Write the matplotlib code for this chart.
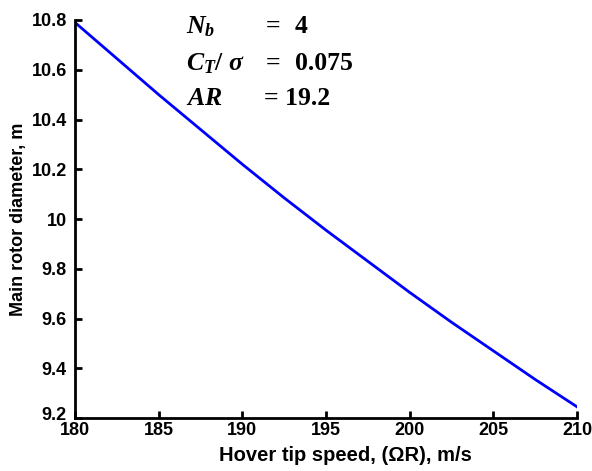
import matplotlib
matplotlib.use("Agg")
import matplotlib.pyplot as plt
import matplotlib.transforms as mtransforms

# Data
tip_speed = [180, 182.5, 185, 187.5, 190, 192.5, 195, 197.5, 200, 202.5, 205, 207.5, 210]
diameter = [10.79, 10.645, 10.50, 10.36, 10.22, 10.085, 9.955, 9.83, 9.705, 9.585, 9.47, 9.355, 9.245]
x_ticks = [180, 185, 190, 195, 200, 205, 210]
y_ticks = [9.2, 9.4, 9.6, 9.8, 10.0, 10.2, 10.4, 10.6, 10.8]
y_tick_labels = ["9.2", "9.4", "9.6", "9.8", "10", "10.2", "10.4", "10.6", "10.8"]

plt.rcParams['font.family'] = ['Liberation Sans', 'DejaVu Sans']
plt.rcParams['font.weight'] = 'bold'
plt.rcParams['mathtext.fontset'] = 'custom'
plt.rcParams['mathtext.it'] = 'Liberation Serif:italic:bold'
plt.rcParams['mathtext.rm'] = 'Liberation Serif:bold'
plt.rcParams['mathtext.bf'] = 'Liberation Serif:bold'

fig = plt.figure(figsize=(5.92, 4.71), dpi=100)
ax = fig.add_axes([75/592, 53/471, (577-75)/592, (418-20)/471])

ax.plot(tip_speed, diameter, color=(0, 0, 1), lw=2)
ax.set_xlim(180, 210)
ax.set_ylim(9.2, 10.8)
ax.set_xticks(x_ticks)
ax.set_xticklabels([str(v) for v in x_ticks])
ax.set_yticks(y_ticks)
ax.set_yticklabels(y_tick_labels)
for s in ['top', 'right']:
    ax.spines[s].set_visible(False)
for s in ['left', 'bottom']:
    ax.spines[s].set_linewidth(2)
ax.tick_params(direction='in', length=5, width=2, labelsize=13)
ax.tick_params(axis='y', pad=6)
ax.tick_params(axis='x', pad=3)
for lab in ax.get_xticklabels() + ax.get_yticklabels():
    lab.set_fontweight('bold')
# lift the lowest y label slightly, as in the reference
ylabs = ax.get_yticklabels()
ylabs[0].set_transform(ylabs[0].get_transform() +
                       mtransforms.ScaledTranslation(0, 4/100, fig.dpi_scale_trans))

ax.set_xlabel("Hover tip speed, (\u03A9R), m/s", fontsize=14.5, fontweight='bold')
ax.xaxis.set_label_coords((345-75)/502, (418-446)/398)
ax.set_ylabel("Main rotor diameter, m", fontsize=13, fontweight='bold', labelpad=3)

fs = 18.5
def ftext(x, y, s):
    fig.text(x/592, 1 - y/471, s, fontsize=fs, ha='left', va='baseline',
             family='Liberation Serif', fontweight='bold')

ftext(186, 33, r'$N_b$')
ftext(266, 33, '=')
ftext(295, 33, '4')
ftext(186, 70, r'$C_T/\ \sigma$')
ftext(266, 70, '=')
ftext(295, 70, '0.075')
ftext(186, 105, r'$AR$')
ftext(264, 105, '= 19.2')

fig.savefig("out.png", dpi=100)
